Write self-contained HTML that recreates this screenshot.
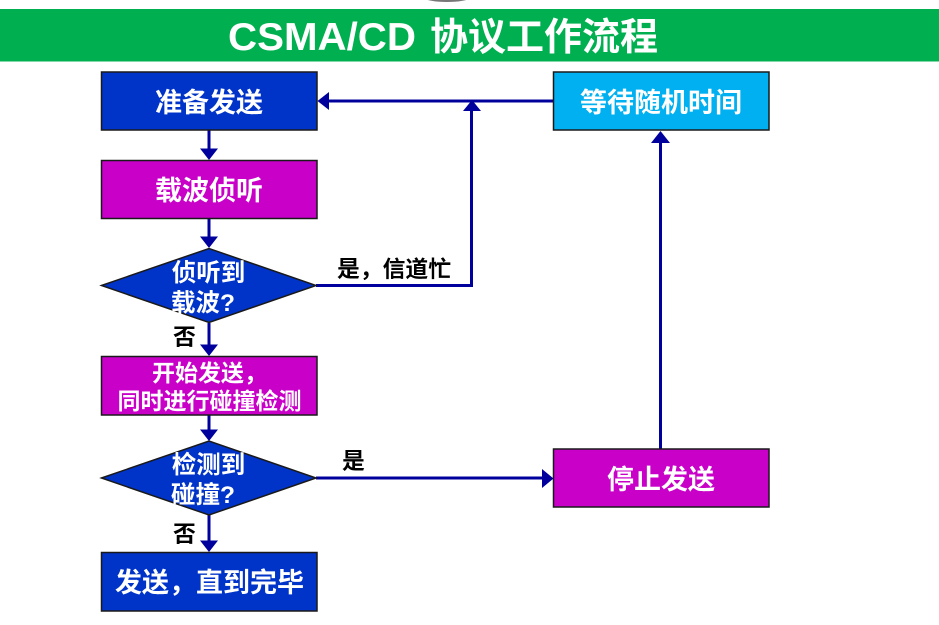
<!DOCTYPE html>
<html lang="zh">
<head>
<meta charset="utf-8">
<title>CSMA/CD 协议工作流程</title>
<style>
html,body{margin:0;padding:0;background:#fff}
svg{display:block}
text{font-family:"Liberation Sans","Noto Sans CJK SC",sans-serif;font-weight:700}
.w{fill:#fff;font-size:27px;text-anchor:middle}
.s{fill:#fff;font-size:24.500px;text-anchor:middle}
.t{fill:#fff;font-size:23px;text-anchor:middle}
.k{fill:#000;font-size:22.800px}
.b{stroke:#1a1a1a;stroke-width:1.5}
.l{stroke:#00009c;stroke-width:3;fill:none}
.a{fill:#00009c}
</style>
</head>
<body>
<svg width="939" height="625" viewBox="0 0 939 625" xmlns="http://www.w3.org/2000/svg">
<ellipse cx="447" cy="-3" rx="24" ry="5" fill="#777"/>
<rect x="0" y="9" width="939" height="52.500" fill="#00b050"/>
<text x="228" y="50" fill="#fff" textLength="188" lengthAdjust="spacingAndGlyphs" style="font-size:39px">CSMA/CD</text>
<text x="430" y="50" fill="#fff" style="font-size:38px">协议工作流程</text>

<path class="l" d="M209 130V150M209 218V238M209 323V346M209 415V431M209 515V542"/>
<path class="l" d="M316 285.500H471.500V110"/>
<path class="l" d="M553 101H328"/>
<path class="l" d="M316 478H542"/>
<path class="l" d="M660.500 449V142"/>

<rect class="b" x="101.500" y="72" width="215.500" height="58" fill="#0033c8"/>
<rect class="b" x="101.500" y="160.500" width="215.500" height="58" fill="#c800c8"/>
<polygon class="b" points="101.500,285.500 209,248.500 316,285.500 209,322.500" fill="#0033c8"/>
<rect class="b" x="101.500" y="356.500" width="215.500" height="58.500" fill="#c800c8"/>
<polygon class="b" points="101.500,478 209,441 316,478 209,515" fill="#0033c8"/>
<rect class="b" x="101.500" y="552.500" width="215.500" height="58.500" fill="#0033c8"/>
<rect class="b" x="553.500" y="72" width="215.500" height="58" fill="#00b0f0"/>
<rect class="b" x="553.500" y="449" width="215.500" height="58" fill="#c800c8"/>

<path class="a" d="M200 148.500H218L209 160ZM200 236.500H218L209 248ZM200 344.500H218L209 356ZM200 429.500H218L209 441ZM200 540.500H218L209 552Z"/>
<path class="a" d="M463 111H481L472 100Z"/>
<path class="a" d="M329 92V110L317.500 101Z"/>
<path class="a" d="M542 469V488L553.500 478.500Z"/>
<path class="a" d="M651 143H670L660.500 131Z"/>

<text class="w" x="209" y="112">准备发送</text>
<text class="w" x="209" y="200">载波侦听</text>
<text class="s" x="208.500" y="281">侦听到</text>
<text class="s" x="203" y="311">载波?</text>
<text class="t" x="209.500" y="381">开始发送&#xFF0C;</text>
<text class="t" x="209.500" y="409">同时进行碰撞检测</text>
<text class="s" x="208.500" y="473">检测到</text>
<text class="s" x="203" y="503">碰撞?</text>
<text class="w" x="209.500" y="592">发送&#xFF0C;直到完毕</text>
<text class="w" x="661" y="112">等待随机时间</text>
<text class="w" x="661" y="489">停止发送</text>

<text class="k" x="337" y="277">是&#xFF0C;信道忙</text>
<text class="k" x="173" y="345">否</text>
<text class="k" x="342" y="469">是</text>
<text class="k" x="173" y="542">否</text>
</svg>
</body>
</html>
